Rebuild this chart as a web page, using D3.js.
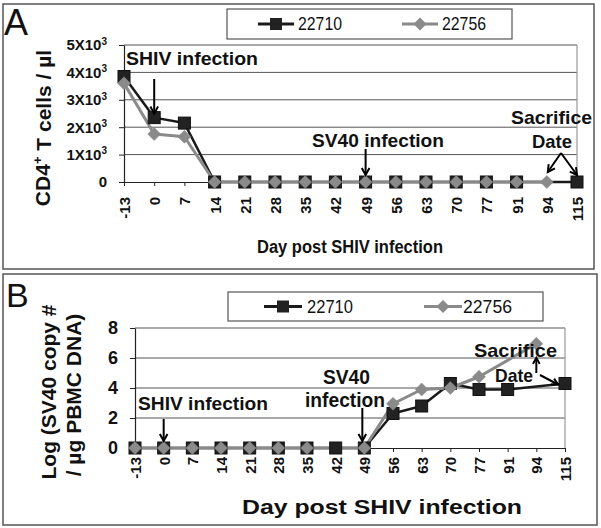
<!DOCTYPE html>
<html><head><meta charset="utf-8">
<script src="https://cdn.jsdelivr.net/npm/d3@7"></script>
<style>
body{margin:0;background:#fff}
svg{display:block}
text{font-family:"Liberation Sans",Arial,sans-serif;fill:#111}
</style>
</head><body>
<svg id="c" width="601" height="528"></svg>
<script>
// ---------- data ----------
const days = ["-13","0","7","14","21","28","35","42","49","56","63","70","77","91","94","115"];
const seriesNames = ["22710","22756"];
// Panel A: CD4+ T cells / µl
const cd4_22710 = [3850,2350,2150,0,0,0,0,0,0,0,0,0,0,0,null,0];
const cd4_22756 = [3600,1750,1650,0,0,0,0,0,0,0,0,0,0,0,0,null];
const cd4Ticks = [0,1000,2000,3000,4000,5000];
// Panel B: Log (SV40 copy # / µg PBMC DNA)
const sv40_22710 = [0,0,0,0,0,0,0,0,0,2.3,2.8,4.3,3.9,3.9,null,4.3];
const sv40_22756 = [0,0,0,0,0,0,0,null,0,2.95,3.9,4.0,4.75,null,6.95,null];
const sv40Ticks = [0,2,4,6,8];

const svg = d3.select("#c");
const BLACK = "#1a1a1a", GREY = "#8a8a8a";

function arrow(g, x1, y1, x2, y2, head = 8) {
  g.append("line").attr("x1", x1).attr("y1", y1).attr("x2", x2).attr("y2", y2)
    .attr("stroke", "#000").attr("stroke-width", 2);
  const a = Math.atan2(y2 - y1, x2 - x1);
  const p = d3.path();
  p.moveTo(x2 - head * Math.cos(a - 0.5), y2 - head * Math.sin(a - 0.5));
  p.lineTo(x2, y2);
  p.lineTo(x2 - head * Math.cos(a + 0.5), y2 - head * Math.sin(a + 0.5));
  g.append("path").attr("d", p.toString()).attr("fill", "none")
    .attr("stroke", "#000").attr("stroke-width", 2);
}

function diamondPath(cx, cy, r) {
  return `M${cx},${cy - r}L${cx + r},${cy}L${cx},${cy + r}L${cx - r},${cy}Z`;
}

function drawPanel(o) {
  const g = svg.append("g");
  g.append("rect").attr("x", o.frame[0]).attr("y", o.frame[1])
    .attr("width", o.frame[2]).attr("height", o.frame[3])
    .attr("fill", "none").attr("stroke", "#555").attr("stroke-width", 1.5);
  g.append("text").attr("x", o.letter[0]).attr("y", o.letter[1])
    .attr("font-size", o.letter[2]).text(o.letter[3]);

  const x = d3.scalePoint().domain(days).range(o.xRange).padding(0);
  const y = d3.scaleLinear().domain(o.yDomain).range(o.yRange);

  g.append("g").selectAll("line").data(o.ticks.filter(t => t > 0)).join("line")
    .attr("x1", o.xRange[0]).attr("x2", o.xRange[1])
    .attr("y1", d => y(d)).attr("y2", d => y(d))
    .attr("stroke", "#555").attr("stroke-width", 1);
  g.append("line").attr("x1", o.xRange[1]).attr("x2", o.xRange[1])
    .attr("y1", o.yRange[1]).attr("y2", o.yRange[0])
    .attr("stroke", "#999").attr("stroke-width", 1.2);

  // y axis
  const ya = g.append("g").attr("transform", `translate(${o.xRange[0]},0)`)
    .call(d3.axisLeft(y).tickValues(o.ticks).tickSize(5).tickSizeOuter(0).tickPadding(12)
      .tickFormat(o.yFmt));
  ya.select(".domain").attr("stroke", "#222").attr("stroke-width", 1.2);
  ya.selectAll(".tick line").attr("stroke", "#222");
  ya.selectAll("text").attr("font-size", o.yFont).attr("font-weight", "bold")
    .attr("font-family", "Liberation Sans, Arial, sans-serif").attr("fill", "#111");
  if (o.superscript) {
    ya.selectAll(".tick text").each(function (d) {
      if (d === 0) return;
      const t = d3.select(this);
      t.text(null).attr("text-anchor", "start");
      t.append("tspan").text((d / 1000) + "X10");
      t.append("tspan").attr("font-size", 10).attr("dy", "-0.55em").text("3");
      const w = this.getComputedTextLength();
      t.attr("x", -17 - w);
    });
  }

  // x axis
  const xa = g.append("g").attr("transform", `translate(0,${o.yRange[0]})`)
    .call(d3.axisBottom(x).tickSize(4).tickSizeOuter(0));
  xa.select(".domain").attr("stroke", "#222").attr("stroke-width", 1.2);
  xa.selectAll(".tick line").attr("stroke", "#222");
  xa.selectAll("text").attr("transform", "rotate(-90)").attr("text-anchor", "end")
    .attr("x", -o.xLabelOff).attr("y", 0).attr("dy", "0.36em")
    .attr("font-size", o.xFont).attr("font-weight", "bold")
    .attr("font-family", "Liberation Sans, Arial, sans-serif").attr("fill", "#111");

  const series = [
    { vals: o.s1, color: BLACK, w: 2.5, shape: "square" },
    { vals: o.s2, color: GREY, w: 3, shape: "diamond" }
  ];
  series.forEach(s => {
    const pts = days.map((d, i) => ({ d, v: s.vals[i] })).filter(p => p.v !== null);
    const line = d3.line().x(p => x(p.d)).y(p => y(p.v));
    g.append("path").datum(pts).attr("d", line).attr("fill", "none")
      .attr("stroke", s.color).attr("stroke-width", s.w).attr("stroke-linejoin", "round");
  });
  series.forEach(s => {
    const pts = days.map((d, i) => ({ d, v: s.vals[i] })).filter(p => p.v !== null);
    if (s.shape === "square") {
      g.append("g").selectAll("rect").data(pts).join("rect")
        .attr("x", p => x(p.d) - 6).attr("y", p => y(p.v) - 6)
        .attr("width", 12).attr("height", 12)
        .attr("fill", "#222").attr("stroke", "#111").attr("stroke-width", 1);
    } else {
      g.append("g").selectAll("path").data(pts).join("path")
        .attr("d", p => diamondPath(x(p.d), y(p.v), 6.5))
        .attr("fill", GREY).attr("stroke", "#888").attr("stroke-width", 0.5);
    }
  });

  // legend
  const L = o.legend;
  g.append("rect").attr("x", L.box[0]).attr("y", L.box[1]).attr("width", L.box[2]).attr("height", L.box[3])
    .attr("fill", "#fff").attr("stroke", "#555").attr("stroke-width", 1.2);
  const ly = L.box[1] + L.box[3] / 2;
  g.append("line").attr("x1", L.l1[0]).attr("x2", L.l1[1]).attr("y1", ly).attr("y2", ly)
    .attr("stroke", BLACK).attr("stroke-width", 3);
  const m1 = (L.l1[0] + L.l1[1]) / 2;
  g.append("rect").attr("x", m1 - 6).attr("y", ly - 6).attr("width", 12).attr("height", 12).attr("fill", "#222");
  g.append("line").attr("x1", L.l2[0]).attr("x2", L.l2[1]).attr("y1", ly).attr("y2", ly)
    .attr("stroke", GREY).attr("stroke-width", 3);
  const m2 = (L.l2[0] + L.l2[1]) / 2;
  g.append("path").attr("d", diamondPath(m2, ly, 6.5)).attr("fill", GREY);
  seriesNames.forEach((n, i) => {
    g.append("text").attr("x", L.tx[i]).attr("y", L.ty).attr("font-size", 19)
      .attr("textLength", L.tw[i]).attr("lengthAdjust", "spacingAndGlyphs").text(n);
  });

  g.append("text").attr("x", o.xTitle[0]).attr("y", o.xTitle[1]).attr("font-size", o.xTitle[2])
    .attr("font-weight", "bold").attr("textLength", o.xTitle[3]).attr("lengthAdjust", "spacingAndGlyphs")
    .text("Day post SHIV infection");

  o.notes.forEach(n => {
    g.append("text").attr("x", n[0]).attr("y", n[1]).attr("font-size", n[2]).attr("font-weight", "bold")
      .attr("textLength", n[3]).attr("lengthAdjust", "spacingAndGlyphs").text(n[4]);
  });
  o.arrows(g, x, y);
  return g;
}

// ---------- Panel A ----------
const gA = drawPanel({
  frame: [3, 4, 591, 265],
  letter: [4, 35, 36, "A"],
  xRange: [124, 577], yRange: [182, 45], yDomain: [0, 5000],
  ticks: cd4Ticks, yFmt: d => d === 0 ? "0" : (d / 1000) + "X10", superscript: true,
  yFont: 15, xFont: 15, xLabelOff: 15,
  s1: cd4_22710, s2: cd4_22756,
  legend: { box: [227, 9, 285, 30], l1: [258, 294], l2: [402, 438], tx: [298, 442], tw: [44, 44], ty: 30 },
  xTitle: [257, 253, 18, 186],
  notes: [
    [126, 65, 19, 132, "SHIV infection"],
    [312, 147, 19, 132, "SV40 infection"],
    [511, 124, 19, 81, "Sacrifice"],
    [532, 148, 19, 40, "Date"]
  ],
  arrows: (g, x, y) => {
    arrow(g, x("0"), 79, x("0"), y(cd4_22710[1]) - 4);
    arrow(g, x("49"), 149, x("49"), y(0) - 7);
    arrow(g, 561, 153, x("94") + 1, y(0) - 10);
    arrow(g, 561, 153, x("115"), y(0) - 7);
  }
});
gA.append("text").attr("transform", "translate(50,128) rotate(-90)").attr("text-anchor", "middle")
  .attr("font-size", 21).attr("font-weight", "bold")
  .call(t => {
    t.append("tspan").text("CD4");
    t.append("tspan").attr("font-size", 13).attr("dy", "-0.6em").text("+");
    t.append("tspan").attr("dy", "0.4em").text(" T cells / µl");
  });

// ---------- Panel B ----------
const gB = drawPanel({
  frame: [3, 274, 594, 251],
  letter: [6, 307, 34, "B"],
  xRange: [135, 565], yRange: [448, 328], yDomain: [0, 8],
  ticks: sv40Ticks, yFmt: d3.format("d"), superscript: false,
  yFont: 18, xFont: 15, xLabelOff: 9,
  s1: sv40_22710, s2: sv40_22756,
  legend: { box: [228, 292, 315, 29], l1: [264, 302], l2: [424, 462], tx: [307, 463], tw: [46, 49], ty: 313 },
  xTitle: [242, 514, 20, 280],
  notes: [
    [138, 410, 19, 130, "SHIV infection"],
    [323, 384, 20, 47, "SV40"],
    [305, 407, 20, 80, "infection"],
    [474, 357, 19, 83, "Sacrifice"],
    [495, 382, 19, 38, "Date"]
  ],
  arrows: (g, x, y) => {
    arrow(g, x("0"), 419, x("0"), y(0) - 7);
    arrow(g, x("49") - 2, 408, x("49") - 2, y(0) - 7);
    arrow(g, x("94"), 373, x("94"), y(sv40_22756[14]) + 14, 7);
    arrow(g, 540, 375, x("115") - 7, y(sv40_22710[15]) + 1, 7);
  }
});
gB.append("text").attr("transform", "translate(56,392) rotate(-90)").attr("text-anchor", "middle")
  .attr("font-size", 21).attr("font-weight", "bold").text("Log (SV40 copy #");
gB.append("text").attr("transform", "translate(81,395) rotate(-90)").attr("text-anchor", "middle")
  .attr("font-size", 21).attr("font-weight", "bold").text("/ µg PBMC DNA)");
</script>
</body></html>
